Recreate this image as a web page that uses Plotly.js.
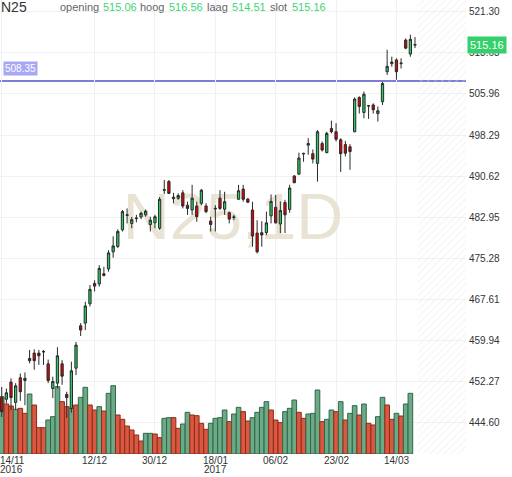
<!DOCTYPE html>
<html>
<head>
<meta charset="utf-8">
<script src="https://cdn.plot.ly/plotly-3.0.1.min.js"></script>
<style>
  html, body { margin: 0; padding: 0; background: #ffffff; }
  #chart { width: 512px; height: 477px; }
</style>
</head>
<body>
<div id="chart"></div>
<script>
// ---------------- data ----------------
const symbol = 'N25';
const interval = '1D';
const refLevel = 508.35;

const open  = [449.3,449.0,452.2,448.4,453.0,452.5,456.6,457.6,457.6,457.8,
               455.6,451.0,452.0,455.6,449.9,447.3,454.8,462.7,463.2,466.8,
               470.6,470.5,472.4,473.3,476.5,477.5,480.6,483.3,481.8,482.7,
               483.0,483.4,481.6,481.9,480.9,488.1,489.6,486.4,486.5,487.5,
               485.2,484.3,485.05,485.55,485.05,482.25,484.5,486.5,484.45,483.8,
               482.9,486.3,488.2,486.35,484.3,480.0,480.07,480.1,483.2,484.8,
               481.7,485.7,484.4,490.65,491.0,494.75,496.4,494.8,493.0,496.7,
               495.0,499.5,498.9,497.4,496.5,496.1,498.9,505.3,502.5,503.7,
               503.9,502.3,504.5,510.1,511.6,512.3,511.6,516.0,513.4,515.06];
const high  = [451.3,451.0,452.9,452.0,453.8,454.0,458.2,458.3,458.2,458.2,
               456.4,453.2,458.7,456.3,450.4,456.0,459.7,463.2,467.2,470.3,
               471.2,474.0,473.7,476.8,479.4,480.7,484.3,484.6,483.0,483.4,
               484.0,484.4,483.05,483.4,486.7,489.9,489.9,487.5,487.4,488.0,
               485.85,489.0,485.85,488.2,485.55,483.05,485.2,488.0,487.7,484.0,
               483.4,489.0,489.0,486.5,485.85,482.4,482.2,484.0,487.2,487.1,
               485.9,486.2,489.0,490.8,495.0,495.0,497.7,495.6,499.2,497.1,
               498.9,500.97,500.5,497.7,497.2,496.6,505.3,505.5,506.4,503.9,
               504.2,503.6,508.2,514.2,512.9,512.6,512.6,516.3,517.0,516.56];
const low   = [445.7,448.2,447.0,447.0,448.7,447.9,455.7,454.5,455.4,455.4,
               452.0,449.2,451.0,451.7,445.5,446.5,453.5,460.8,461.9,466.3,
               469.1,470.0,471.9,472.8,475.4,477.2,480.3,481.8,480.9,482.0,
               482.6,483.05,480.3,480.9,480.6,487.3,487.3,485.55,486.2,484.6,
               483.4,483.4,482.1,485.2,483.7,480.3,480.3,484.3,483.4,481.8,
               482.4,486.2,485.85,485.6,477.45,476.2,477.45,479.6,481.8,481.8,
               480.0,480.0,483.8,489.3,490.8,493.3,494.6,493.0,489.6,495.2,
               494.9,498.6,497.1,491.4,494.3,491.8,498.8,502.3,501.4,501.3,
               502.3,500.8,503.9,509.5,511.05,508.6,510.7,514.3,512.9,514.51];
const close = [446.7,450.2,449.3,451.5,450.4,452.9,456.2,456.2,457.1,457.9,
               452.5,452.3,457.1,453.3,449.3,454.3,459.1,461.9,466.4,469.5,
               470.1,473.4,472.1,476.3,477.6,480.3,484.0,483.4,482.5,482.8,
               483.7,484.1,482.4,483.05,486.3,488.0,487.4,486.7,487.0,485.05,
               484.6,486.5,483.05,488.0,484.0,481.6,484.6,484.6,485.85,482.6,
               483.0,487.9,486.3,485.75,479.45,476.5,479.64,481.9,485.9,481.9,
               484.2,483.4,488.4,489.4,494.0,494.85,496.7,493.8,498.9,495.5,
               498.6,498.9,497.5,494.8,494.9,495.2,505.0,503.6,505.9,503.75,
               503.0,502.8,507.9,511.1,511.9,510.1,511.7,514.5,516.15,515.16];

// volume (millions) and its up/down flag (1 = up, -1 = down)
const volume = [17.2,15.0,14.4,13.4,13.7,12.2,18.0,14.7,7.9,7.9,
                10.2,11.2,20.2,15.7,14.2,13.7,14.7,17.0,20.0,14.7,
                13.2,14.2,12.9,18.2,20.5,11.7,10.4,8.4,7.2,5.7,
                3.9,6.2,6.2,6.0,4.9,10.7,10.9,10.9,7.7,9.0,
                12.5,11.7,11.5,9.2,7.4,9.2,10.7,10.9,13.2,9.7,
                12.0,14.0,12.7,9.9,10.9,12.5,14.0,15.7,13.2,10.2,
                9.4,12.7,13.7,16.2,12.5,10.7,12.0,12.2,19.2,9.7,
                10.4,13.2,12.7,15.7,10.2,12.2,14.5,11.7,15.0,9.2,
                8.7,11.2,17.0,14.7,10.4,12.2,11.4,15.0,18.2,null];
const volDir = [1,-1,-1,1,-1,-1,1,-1,-1,-1,
                1,1,1,-1,-1,1,-1,1,1,-1,
                -1,1,-1,1,1,-1,-1,-1,-1,-1,
                -1,1,1,-1,-1,1,1,-1,-1,1,
                1,-1,-1,-1,-1,1,1,1,1,-1,
                1,1,-1,-1,1,1,1,1,-1,-1,
                -1,1,1,1,-1,-1,1,1,1,-1,
                1,1,-1,1,-1,1,1,-1,1,-1,
                -1,1,1,-1,-1,1,-1,1,1,1];

const priceTicks = [444.60,452.27,459.94,467.61,475.28,482.95,490.62,498.29,505.96,513.63,521.30];
const dateTickIdx = [0,20,33,46,59,72,85];
const dateLabels  = ['14/11','12/12','30/12','18/01','06/02','23/02','14/03'];
const yearLabels  = ['2016','','','2017','','',''];

// ---------------- layout constants ----------------
const PW = 466, PH = 454;               // plot area in px
const xRange = [-0.37, 99.98];
const priceRange = [438.78, 523.48];
const volMax = 136.2;
const FONT = 'Liberation Sans, Arial, sans-serif';

const idx = open.map((_, i) => i);
const last = open.length - 1;

const GREEN_V = '#6ca986', GREEN_VL = '#2f6846';
const RED_V = '#da5841', RED_VL = '#8c2b1b';

// hatched "future" area
const hatchStart = last + 0.55;
const hatch = {
  type: 'bar', x: [(hatchStart + xRange[1]) / 2], y: [volMax], width: [xRange[1] - hatchStart],
  xaxis: 'x', yaxis: 'y', hoverinfo: 'skip',
  marker: { color: 'rgba(0,0,0,0)', line: { width: 0 },
    pattern: { shape: '/', fgcolor: '#e6e6e6', bgcolor: 'rgba(255,255,255,0)', size: 5, solidity: 0.2, fillmode: 'overlay' } }
};

const watermark = {
  type: 'scatter', mode: 'text', x: [(xRange[0] + xRange[1]) / 2], y: [volMax * 0.51],
  text: [symbol + ',' + interval], textposition: 'middle center',
  textfont: { family: FONT, size: 65, color: '#e8e3d3' },
  xaxis: 'x', yaxis: 'y', hoverinfo: 'skip'
};

const vol = {
  type: 'bar', x: idx, y: volume, xaxis: 'x', yaxis: 'y', hoverinfo: 'skip',
  marker: {
    color: volDir.map(d => d > 0 ? GREEN_V : RED_V),
    line: { color: volDir.map(d => d > 0 ? GREEN_VL : RED_VL), width: 1 }
  }
};

const candles = {
  type: 'candlestick', x: idx, open: open, high: high, low: low, close: close,
  xaxis: 'x', yaxis: 'y2', hoverinfo: 'skip', whiskerwidth: 0,
  increasing: { line: { color: '#2a2a2a', width: 1 }, fillcolor: '#25cc5f' },
  decreasing: { line: { color: '#2a2a2a', width: 1 }, fillcolor: '#e30000' }
};

function ann(text, px, py, o) {
  return Object.assign({
    text: text, xref: 'paper', yref: 'paper', x: px / PW, y: 1 - py / PH,
    xanchor: 'left', yanchor: 'middle', showarrow: false,
    font: { family: FONT, size: 11, color: '#666' }
  }, o || {});
}

const G = '#3ed676';
const AX = { family: FONT, size: 10, color: '#333' };
const annotations = [
  ann(symbol, -1, 7, { font: { family: FONT, size: 14, color: '#333' } }),
  ann('opening', 58, 7), ann(open[last].toFixed(2), 101, 7, { font: { family: FONT, size: 11, color: G } }),
  ann('hoog', 138, 7),   ann(high[last].toFixed(2), 167, 7, { font: { family: FONT, size: 11, color: G } }),
  ann('laag', 205, 7),   ann(low[last].toFixed(2), 230, 7, { font: { family: FONT, size: 11, color: G } }),
  ann('slot', 268, 7),   ann(close[last].toFixed(2), 290, 7, { font: { family: FONT, size: 11, color: G } }),
  // reference level tag
  { text: refLevel.toFixed(2), xref: 'paper', yref: 'y2', x: 3 / PW, y: refLevel, yshift: 12.5,
    xanchor: 'left', yanchor: 'middle', showarrow: false, bgcolor: '#a7a7f4', borderpad: 1,
    font: { family: FONT, size: 10, color: '#ffffff' } },
  // last price tag
  { text: close[last].toFixed(2), xref: 'paper', yref: 'y2', x: 467 / PW, y: close[last],
    xanchor: 'left', yanchor: 'middle', showarrow: false, bgcolor: '#33d06c', borderpad: 2,
    font: { family: FONT, size: 11, color: '#ffffff' } }
];
// date tick labels (two-line dates: day/month, then year where it changes)
dateLabels.forEach((d, k) => {
  const first = k === 0;
  const base = first
    ? { xref: 'paper', x: -1 / PW, xanchor: 'left' }
    : { xref: 'x', x: dateTickIdx[k], xanchor: 'center' };
  annotations.push(Object.assign({ text: d, yref: 'paper', y: 1 - 460.5 / PH, yanchor: 'middle',
    showarrow: false, font: AX, borderpad: 0 }, base));
  if (yearLabels[k]) {
    annotations.push(Object.assign({ text: yearLabels[k], yref: 'paper', y: 1 - 469.5 / PH, yanchor: 'middle',
      showarrow: false, font: AX, borderpad: 0 }, base));
  }
});

const layout = {
  width: 512, height: 477,
  margin: { l: 0, r: 512 - PW, t: 0, b: 477 - PH, pad: 0 },
  paper_bgcolor: '#ffffff', plot_bgcolor: '#ffffff',
  showlegend: false, barmode: 'overlay', bargap: 0,
  font: { family: FONT, size: 10, color: '#333' },
  xaxis: {
    range: xRange, tickvals: dateTickIdx, showticklabels: false,
    showgrid: true, gridcolor: '#f1f1f1', gridwidth: 1, zeroline: false, showline: false,
    ticks: '', rangeslider: { visible: false }, fixedrange: true
  },
  yaxis: { range: [0, volMax], visible: false, showgrid: false, zeroline: false, fixedrange: true },
  yaxis2: {
    overlaying: 'y', side: 'right', range: priceRange, tickvals: priceTicks, tickformat: '.2f',
    showgrid: true, gridcolor: '#f1f1f1', gridwidth: 1, zeroline: false, showline: false,
    ticks: '', ticklabelstandoff: 2, tickfont: AX, fixedrange: true
  },
  shapes: [{
    type: 'line', xref: 'paper', x0: 0, x1: 1, yref: 'y2', y0: refLevel, y1: refLevel,
    line: { color: '#7d7dd4', width: 2 }, layer: 'below'
  }],
  annotations: annotations
};

Plotly.newPlot('chart', [hatch, watermark, vol, candles], layout, { displayModeBar: false, staticPlot: true });
</script>
</body>
</html>
